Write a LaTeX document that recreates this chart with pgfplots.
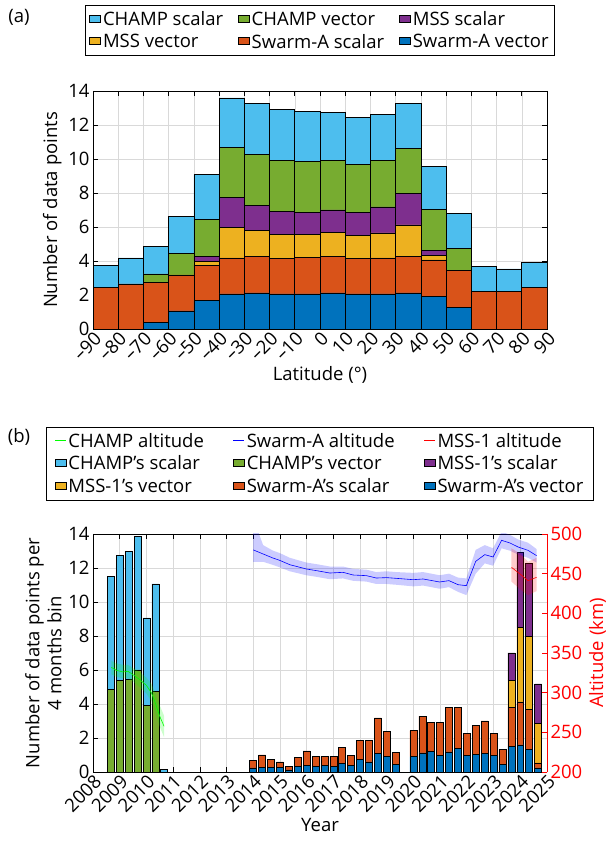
\documentclass[border=0pt]{standalone}
\usepackage{fontspec}
\setmainfont{Open Sans}
\usepackage{pgfplots}
\usepackage{pgfplotstable}
\pgfplotsset{compat=1.18}
\definecolor{mblue}{rgb}{0,0.447,0.741}
\definecolor{morange}{rgb}{0.85,0.325,0.098}
\definecolor{myellow}{rgb}{0.929,0.694,0.125}
\definecolor{mpurple}{rgb}{0.494,0.184,0.556}
\definecolor{mgreen}{rgb}{0.466,0.674,0.188}
\definecolor{mlblue}{rgb}{0.301,0.745,0.933}
\newcommand\fsz{\fontsize{18.5bp}{22bp}\selectfont}

\pgfplotstableread{
x sav sas mv ms cv cs
-85 0 2.47 0 0 0 1.29
-75 0 2.65 0 0 0 1.53
-65 0.41 2.35 0 0 0.48 1.64
-55 1.06 2.12 0 0 1.25 2.18
-45 1.67 2.09 0.22 0.29 2.20 2.63
-35 2.06 2.12 1.80 1.78 2.91 2.92
-25 2.12 2.17 1.49 1.51 3.00 3.00
-15 2.06 2.08 1.41 1.39 2.98 3.02
-5 2.06 2.14 1.35 1.33 2.96 2.98
5 2.12 2.17 1.38 1.33 2.90 2.86
15 2.06 2.08 1.37 1.37 2.79 2.78
25 2.06 2.12 1.47 1.53 2.72 2.71
35 2.12 2.13 1.87 1.84 2.65 2.66
45 1.94 2.12 0.29 0.26 2.41 2.53
55 1.29 2.16 0 0 1.31 2.02
65 0 2.20 0 0 0 1.49
75 0 2.20 0 0 0 1.33
85 0 2.47 0 0 0 1.47
}\lat

\pgfplotstableread{
x sav sas mv ms cv cs
2008.667 0 0 0 0 4.88 6.61
2009.000 0 0 0 0 5.39 7.36
2009.333 0 0 0 0 5.43 7.53
2009.667 0 0 0 0 6.00 7.88
2010.000 0 0 0 0 3.94 5.12
2010.333 0 0 0 0 4.73 6.33
2010.667 0 0 0 0 0 0.14
2014.000 0.24 0.43 0 0 0 0
2014.333 0.29 0.71 0 0 0 0
2014.667 0.27 0.46 0 0 0 0
2015.000 0.27 0.32 0 0 0 0
2015.333 0.12 0.21 0 0 0 0
2015.667 0.33 0.51 0 0 0 0
2016.000 0.41 0.83 0 0 0 0
2016.333 0.31 0.59 0 0 0 0
2016.667 0.37 0.57 0 0 0 0
2017.000 0.31 0.63 0 0 0 0
2017.333 0.49 0.98 0 0 0 0
2017.667 0.37 0.59 0 0 0 0
2018.000 0.73 1.11 0 0 0 0
2018.333 0.59 1.29 0 0 0 0
2018.667 1.08 2.10 0 0 0 0
2019.000 0.94 1.43 0 0 0 0
2019.333 0.47 0.69 0 0 0 0
2020.000 0.90 1.53 0 0 0 0
2020.333 1.12 2.17 0 0 0 0
2020.667 1.22 1.72 0 0 0 0
2021.000 0.98 1.96 0 0 0 0
2021.333 1.18 2.62 0 0 0 0
2021.667 1.37 2.43 0 0 0 0
2022.000 0.96 1.33 0 0 0 0
2022.333 1.02 1.74 0 0 0 0
2022.667 1.10 1.90 0 0 0 0
2023.000 0.96 1.31 0 0 0 0
2023.333 0.47 0.84 0 0 0 0
2023.667 1.51 2.31 1.57 1.61 0 0
2024.000 1.59 2.53 4.39 4.41 0 0
2024.333 1.31 2.36 4.31 4.31 0 0
2024.667 0.24 0.29 2.31 2.34 0 0
}\yr

\pgfplotstableread{
x alt
2008.688 331.9
2008.875 328.2
2009.125 326.1
2009.310 326.9
2009.500 322.7
2009.750 316.4
2010.000 309.2
2010.190 299.6
2010.310 289.1
2010.500 270.2
2010.660 257.6
}\champ

\pgfplotstableread{
x alt
2014.00 480.0
2014.37 474.8
2014.74 469.7
2014.99 466.8
2015.37 461.3
2015.99 455.9
2016.37 453.8
2016.87 450.8
2017.36 451.7
2017.74 448.3
2018.24 447.5
2018.61 444.5
2018.99 445.0
2019.36 444.1
2019.99 442.4
2020.36 443.3
2020.98 439.5
2021.33 441.2
2021.67 436.1
2021.98 434.9
2022.33 465.5
2022.67 474.0
2022.98 471.0
2023.30 492.0
2023.61 488.7
2023.92 483.6
2024.29 479.4
2024.61 472.7
}\swarm

\pgfplotstableread{
x alt
2023.67 458.0
2024.00 449.3
2024.29 441.2
2024.61 445.4
}\mss

\pgfplotsset{
  myaxis/.style={
    scale only axis, width=454bp, height=238bp,
    tick label style={font=\fsz},
    label style={font=\fsz},
    legend style={font=\fsz},
    /pgf/number format/assume math mode=true,
    /pgf/number format/1000 sep={},
    axis line style={black, line width=0.8bp},
    major tick length=5bp,
    tick style={black, line width=0.6bp},
    tick align=inside,
  },
  myleg/.style={
    legend columns=3,
    legend cell align=left,
    legend style={draw=black, line width=0.8bp,
      inner xsep=4bp, inner ysep=4bp, row sep=3bp,
      /tikz/every even column/.append style={column sep=#1}},
  }
}

\begin{document}
\begin{tikzpicture}
\useasboundingbox (0,0) rectangle (616bp,845bp);
\node[font=\fsz] at (19bp,828bp) {(a)};
\node[font=\fsz] at (19bp,408bp) {(b)};

% ---------------- panel (a)
\begin{axis}[myaxis,
  at={(93bp,516bp)}, anchor=south west,
  xmin=-90, xmax=90, ymin=0, ymax=14,
  xtick={-90,-80,...,90},
  xticklabels={–90,–80,–70,–60,–50,–40,–30,–20,–10,0,10,20,30,40,50,60,70,80,90},
  ytick={0,2,...,14},
  xticklabel style={rotate=45, anchor=north east, inner sep=1bp},
  grid=major, grid style={gray!30, line width=0.5bp},
  ybar stacked, bar width=10,
  xlabel={Latitude (°)},
  ylabel={Number of data points},
  legend image code/.code={\draw[#1,draw=black,line width=0.6bp] (0bp,-3bp) rectangle (11bp,4bp);},
  reverse legend, myleg=13bp,
  legend style={at={(0.5,1.361)}, anchor=north},
]
\addplot[fill=mblue, draw=black, line width=0.6bp] table[x=x,y=sav]{\lat};
\addplot[fill=morange, draw=black, line width=0.6bp] table[x=x,y=sas]{\lat};
\addplot[fill=myellow, draw=black, line width=0.6bp] table[x=x,y=mv]{\lat};
\addplot[fill=mpurple, draw=black, line width=0.6bp] table[x=x,y=ms]{\lat};
\addplot[fill=mgreen, draw=black, line width=0.6bp] table[x=x,y=cv]{\lat};
\addplot[fill=mlblue, draw=black, line width=0.6bp] table[x=x,y=cs]{\lat};
\legend{Swarm-A vector, Swarm-A scalar, MSS vector, MSS scalar, CHAMP vector, CHAMP scalar}
\node[font=\fsz, anchor=south west, inner sep=1bp] at (rel axis cs:0,1) {×\,10\textsuperscript{4}};
\end{axis}

% ---------------- panel (b) left
\begin{axis}[myaxis,
  at={(93bp,73bp)}, anchor=south west,
  xmin=2008, xmax=2025, ymin=0, ymax=14,
  axis x line*=box, axis y line*=left,
  xtick={2008,2009,...,2025},
  ytick={0,2,...,14},
  xticklabel style={rotate=45, anchor=north east, inner sep=1bp},
  grid=major, grid style={gray!30, line width=0.5bp},
  ybar stacked, bar width=0.262,
  xlabel={Year},
  ylabel={Number of data points per\\4 months bin},
  ylabel style={align=center},
  legend image code/.code={\draw[#1,draw=black,line width=0.6bp] (0bp,-3bp) rectangle (11bp,4bp);},
  reverse legend, myleg=27bp,
  legend style={at={(0.5,1.4496)}, anchor=north, inner xsep=8bp},
]
\addplot[fill=mblue, draw=black, line width=0.6bp] table[x=x,y=sav]{\yr};
\addplot[fill=morange, draw=black, line width=0.6bp] table[x=x,y=sas]{\yr};
\addplot[fill=myellow, draw=black, line width=0.6bp] table[x=x,y=mv]{\yr};
\addplot[fill=mpurple, draw=black, line width=0.6bp] table[x=x,y=ms]{\yr};
\addplot[fill=mgreen, draw=black, line width=0.6bp] table[x=x,y=cv]{\yr};
\addplot[fill=mlblue, draw=black, line width=0.6bp] table[x=x,y=cs]{\yr};
\addlegendimage{legend image code/.code={\draw[draw=red,line width=0.9bp] (0bp,0.5bp)--(11bp,0.5bp);}}
\addlegendimage{legend image code/.code={\draw[draw=blue,line width=0.9bp] (0bp,0.5bp)--(11bp,0.5bp);}}
\addlegendimage{legend image code/.code={\draw[draw=green,line width=0.9bp] (0bp,0.5bp)--(11bp,0.5bp);}}
\legend{Swarm-A's vector, Swarm-A's scalar, MSS-1's vector, MSS-1's scalar, CHAMP's vector, CHAMP's scalar, MSS-1 altitude, Swarm-A altitude, CHAMP altitude}
\node[font=\fsz, anchor=south west, inner sep=1bp] at (rel axis cs:0,1) {×\,10\textsuperscript{4}};
\end{axis}

% ---------------- panel (b) right
\begin{axis}[myaxis,
  at={(93bp,73bp)}, anchor=south west,
  xmin=2008, xmax=2025, ymin=200, ymax=500,
  axis y line*=right, axis x line=none,
  ytick={200,250,...,500},
  y axis line style={red, line width=0.8bp},
  ytick style={red},
  yticklabel style={red},
  ylabel={Altitude (km)},
  ylabel style={red},
]
\addplot[fill=green, fill opacity=0.2, draw=none] coordinates {
(2008.688,340)(2008.875,337)(2009.125,335)(2009.31,335)(2009.5,331)(2009.75,326)(2010,319)(2010.19,311)(2010.31,301)(2010.5,284)(2010.66,271)
(2010.66,244)(2010.5,257)(2010.31,277)(2010.19,289)(2010,299)(2009.75,307)(2009.5,314)(2009.31,318)(2009.125,318)(2008.875,320)(2008.688,323)};
\addplot[green, line width=0.6bp] table[x=x,y=alt]{\champ};
\addplot[fill=blue, fill opacity=0.2, draw=none] coordinates {
(2014.00,520)(2014.37,486)(2014.74,479)(2014.99,476)(2015.37,470)(2015.99,464)(2016.37,462)(2016.87,459)(2017.36,459)(2017.74,456)(2018.24,455)(2018.61,452)(2018.99,453)(2019.36,452)(2019.99,451)(2020.36,452)(2020.98,448)(2021.33,450)(2021.67,445)(2021.98,444)(2022.33,480)(2022.67,486)(2022.98,482)(2023.30,503)(2023.61,499)(2023.92,493)(2024.29,489)(2024.61,481)
(2024.61,464)(2024.29,470)(2023.92,474)(2023.61,479)(2023.30,482)(2022.98,460)(2022.67,463)(2022.33,450)(2021.98,423)(2021.67,427)(2021.33,433)(2020.98,431)(2020.36,435)(2019.99,434)(2019.36,436)(2018.99,437)(2018.61,437)(2018.24,440)(2017.74,441)(2017.36,444)(2016.87,443)(2016.37,446)(2015.99,448)(2015.37,453)(2014.99,458)(2014.74,461)(2014.37,465)(2014.00,465)};
\addplot[blue, line width=0.6bp] table[x=x,y=alt]{\swarm};
\addplot[fill=red, fill opacity=0.2, draw=none] coordinates {
(2023.67,482)(2024.00,475)(2024.29,465)(2024.61,470)
(2024.61,428)(2024.29,423)(2024.00,430)(2023.67,440)};
\addplot[red, line width=0.6bp] table[x=x,y=alt]{\mss};
\end{axis}
\end{tikzpicture}
\end{document}
